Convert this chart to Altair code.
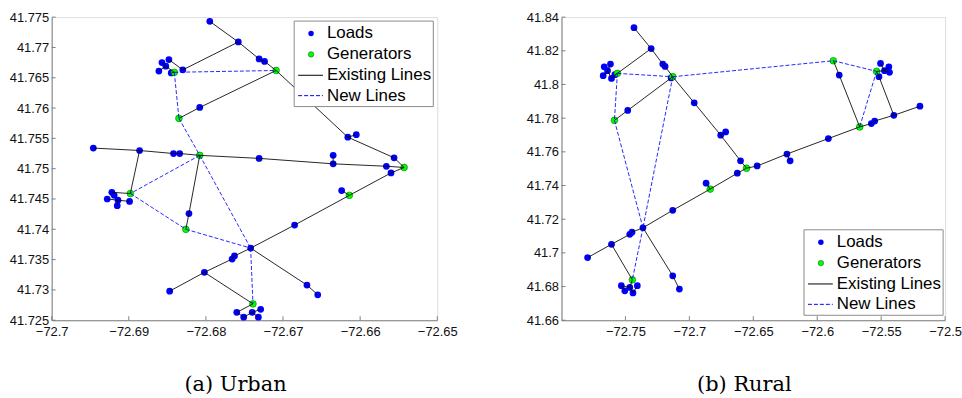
import altair as alt
import pandas as pd

# ---------------- Urban network (a) ----------------
urban_load_ids = ["u01","u02","u03","u04","u05","u06","u07","u08","u09","u10","u11","u12","u13","u14","u15","u16",
                  "u17","u18","u19","u20","u21","u22","u23","u24","u25","u26","u27","u28","u29","u30","u31","u32",
                  "u33","u34","u35","u36","u37","u38","u39","u40","u41","u42","u43","u44"]
urban_load_lon = [-72.6795,-72.6758,-72.6731,-72.6724,-72.6616,-72.6605,-72.6556,-72.6560,-72.6566,-72.6635,-72.6635,
                  -72.6731,-72.6834,-72.6842,-72.6886,-72.6946,-72.6922,-72.6928,-72.6915,-72.6899,-72.6914,-72.6919,
                  -72.6822,-72.6742,-72.6763,-72.6766,-72.6685,-72.6624,-72.6802,-72.6847,-72.6669,-72.6655,-72.6760,
                  -72.6751,-72.6740,-72.6729,-72.6732,-72.6857,-72.6848,-72.6861,-72.6852,-72.6845,-72.6830,-72.6808]
urban_load_lat = [41.7743,41.7709,41.7681,41.7677,41.7552,41.7556,41.7518,41.7493,41.7504,41.7522,41.7508,
                  41.7517,41.7525,41.7525,41.7530,41.7534,41.7461,41.7450,41.7439,41.7446,41.7448,41.7456,
                  41.7426,41.7369,41.7356,41.7351,41.7407,41.7464,41.7329,41.7298,41.7308,41.7292,41.7263,
                  41.7255,41.7263,41.7268,41.7255,41.7675,41.7680,41.7661,41.7669,41.7658,41.7663,41.7601]
urban_gen_ids = ["g1","g2","g3","g4","g5","g6","g7","g8","g9"]
urban_gen_lon = [-72.6709,-72.6543,-72.6808,-72.6898,-72.6826,-72.6614,-72.6739,-72.6841,-72.6835]
urban_gen_lat = [41.7662,41.7502,41.7522,41.7459,41.7400,41.7456,41.7277,41.7659,41.7583]
urban_existing = [("u01","u02"),("u02","u03"),("u03","u04"),("u04","g1"),("g1","u05"),("u05","u06"),("u05","u07"),
                  ("u07","g2"),("u43","u02"),("u39","u43"),("u38","u41"),("u41","u40"),("u41","g8"),("u42","g8"),
                  ("g9","u44"),("u44","g1"),("u16","u15"),("u15","u14"),("u14","u13"),("u13","g3"),("g3","u12"),
                  ("u12","u11"),("u11","u09"),("u09","g2"),("u10","u11"),("u15","g4"),("u17","g4"),("u18","u20"),
                  ("u21","u19"),("g3","u23"),("u23","g5"),("g2","u08"),("u08","g6"),("g6","u28"),("g6","u27"),
                  ("u27","u24"),("u24","u25"),("u25","u26"),("u26","u29"),("u29","u30"),("u29","g7"),("u24","u31"),
                  ("u31","u32"),("g7","u33"),("u33","u34"),("u34","u35"),("u35","u36"),("u35","u37")]
urban_new = [("g8","g1"),("g8","g9"),("g9","g3"),("g3","g4"),("g4","g5"),("g5","u24"),("g3","u24"),("u24","g7")]
urban_x_ticks = [-72.7, -72.69, -72.68, -72.67, -72.66, -72.65]
urban_y_ticks = [41.725, 41.73, 41.735, 41.74, 41.745, 41.75, 41.755, 41.76, 41.765, 41.77, 41.775]
urban_x_domain = [-72.7, -72.65]
urban_y_domain = [41.725, 41.775]

# ---------------- Rural network (b) ----------------
rural_load_ids = ["r%02d" % i for i in range(1, 46)]
rural_load_lon = [-72.7433,-72.7299,-72.7208,-72.7190,-72.7143,-72.6962,-72.6755,-72.6716,-72.6600,-72.6625,-72.6470,
                  -72.6237,-72.6212,-72.5913,-72.5577,-72.5551,-72.5401,-72.5197,-72.5828,-72.5505,-72.5440,-72.5435,
                  -72.5517,-72.5474,-72.7666,-72.7617,-72.7640,-72.7674,-72.7609,-72.7583,-72.7482,-72.7796,-72.7609,
                  -72.7466,-72.7449,-72.7363,-72.7130,-72.6869,-72.7130,-72.7078,-72.7532,-72.7505,-72.7441,-72.7407,
                  -72.7466]
rural_load_lat = [41.8337,41.8213,41.8121,41.8107,41.8039,41.7891,41.7699,41.7718,41.7547,41.7473,41.7516,
                  41.7587,41.7547,41.7679,41.7768,41.7783,41.7817,41.7871,41.8056,41.8125,41.8105,41.8072,
                  41.8046,41.8082,41.8105,41.8121,41.8082,41.8052,41.8036,41.8058,41.7846,41.6972,41.7051,
                  41.7110,41.7123,41.7149,41.7253,41.7414,41.6864,41.6785,41.6805,41.6775,41.6762,41.6805,
                  41.6795]
rural_gen_ids = ["h1","h2","h3","h4","h5","h6","h7","h8","h9"]
rural_gen_lon = [-72.7130,-72.6553,-72.5668,-72.5874,-72.5536,-72.7563,-72.7586,-72.6837,-72.7446]
rural_gen_lat = [41.8046,41.7503,41.7748,41.8141,41.8078,41.8066,41.7787,41.7379,41.6840]
rural_existing = [("r01","r02"),("r02","r03"),("r03","r04"),("r04","h1"),("h1","r06"),("r06","r07"),("r07","r09"),
                  ("r07","r08"),("r09","h2"),("h6","r02"),("h7","r31"),("r31","h1"),("r26","r27"),("r27","r28"),
                  ("r27","r29"),("r29","h6"),("r30","h6"),("r32","r33"),("r33","r34"),("r34","r35"),("r35","r36"),
                  ("r36","r37"),("r37","h8"),("r38","h8"),("h8","r10"),("r10","h2"),("h2","r11"),("r11","r12"),
                  ("r12","r13"),("r12","r14"),("r14","h3"),("h3","r15"),("r15","r16"),("r16","r17"),("r17","r18"),
                  ("r33","h9"),("h9","r45"),("r45","r41"),("r41","r42"),("r45","r43"),("r43","r44"),("r36","r39"),
                  ("r39","r40"),("h4","r19"),("r19","h3"),("h5","r23"),("r23","r17"),("r20","r24"),("r24","r21"),
                  ("r24","r22"),("h5","r24")]
rural_new = [("h6","h1"),("h6","h7"),("h7","r36"),("h1","r36"),("r36","h9"),("h1","h4"),("h4","h5"),("h5","h3")]
rural_x_ticks = [-72.75, -72.7, -72.65, -72.6, -72.55, -72.5]
rural_y_ticks = [41.66, 41.68, 41.7, 41.72, 41.74, 41.76, 41.78, 41.8, 41.82, 41.84]
rural_x_domain = [-72.8, -72.5]
rural_y_domain = [41.66, 41.84]

legend_labels = ["Loads", "Generators", "Existing Lines", "New Lines"]
captions = ["(a) Urban", "(b) Rural"]

SANS = "Liberation Sans"
AXIS_GRAY = "#7f7f7f"


def panel(load_ids, load_lon, load_lat, gen_ids, gen_lon, gen_lat, existing, new,
          xdom, ydom, xticks, yticks, w, h, legend_top, caption):
    pos = {}
    for i, n in enumerate(load_ids):
        pos[n] = (load_lon[i], load_lat[i])
    for i, n in enumerate(gen_ids):
        pos[n] = (gen_lon[i], gen_lat[i])
    loads = pd.DataFrame({"x": load_lon, "y": load_lat})
    gens = pd.DataFrame({"x": gen_lon, "y": gen_lat})

    def edge_df(edges):
        return pd.DataFrame({
            "x": [pos[a][0] for a, b in edges], "y": [pos[a][1] for a, b in edges],
            "x2": [pos[b][0] for a, b in edges], "y2": [pos[b][1] for a, b in edges]})

    xs = alt.Scale(domain=xdom, nice=False, zero=False)
    ys = alt.Scale(domain=ydom, nice=False, zero=False)
    xaxis = alt.Axis(values=xticks, format=".6~g", title=None, grid=False, ticks=False,
                     domainColor=AXIS_GRAY, labelFont=SANS, labelFontSize=13, labelColor="#111",
                     labelPadding=5, labelFlush=False, labelOverlap=False)
    yaxis = alt.Axis(values=yticks, format=".6~g", title=None, grid=False, ticks=False,
                     domainColor=AXIS_GRAY, labelFont=SANS, labelFontSize=13, labelColor="#111",
                     labelPadding=3, labelFlush=False, labelOverlap=False)
    X = alt.X("x:Q", scale=xs, axis=xaxis)
    Y = alt.Y("y:Q", scale=ys, axis=yaxis)

    pts_load = alt.Chart(loads).mark_circle(size=46, color="#0000ff", opacity=1).encode(x=X, y=Y)
    pts_gen = alt.Chart(gens).mark_point(size=46, filled=True, fill="#00ff00", stroke="#0a6e0a",
                                         strokeWidth=0.6, opacity=1).encode(x=X, y=Y)
    ex = alt.Chart(edge_df(existing)).mark_rule(color="#000000", strokeWidth=1, opacity=0.85).encode(
        x=X, y=Y, x2="x2:Q", y2="y2:Q")
    nw = alt.Chart(edge_df(new)).mark_rule(color="#0000ff", strokeWidth=1, strokeDash=[4, 2], opacity=0.85).encode(
        x=X, y=Y, x2="x2:Q", y2="y2:Q")

    xt = alt.Chart(pd.DataFrame({"x": xticks})).mark_rule(color=AXIS_GRAY, strokeWidth=1).encode(
        x=X, y=alt.value(h), y2=alt.value(h - 4))
    yt = alt.Chart(pd.DataFrame({"y": yticks})).mark_rule(color=AXIS_GRAY, strokeWidth=1).encode(
        y=Y, x=alt.value(0), x2=alt.value(4))

    one = pd.DataFrame({"k": [0]})
    T = legend_top
    lx0, lx1 = 244, 384
    rows = [T + 12.5, T + 33.5, T + 54.5, T + 75]
    box = alt.Chart(one).mark_rect(fill="white", stroke="#8a8a8a", strokeWidth=1).encode(
        x=alt.value(lx0), x2=alt.value(lx1), y=alt.value(T), y2=alt.value(T + 86))
    lg_load = alt.Chart(one).mark_circle(size=30, color="#0000ff", opacity=1).encode(
        x=alt.value(261), y=alt.value(rows[0]))
    lg_gen = alt.Chart(one).mark_point(size=30, filled=True, fill="#00ff00", stroke="#0a6e0a",
                                       strokeWidth=0.6, opacity=1).encode(x=alt.value(261), y=alt.value(rows[1]))
    lg_ex = alt.Chart(one).mark_rule(color="#000000", strokeWidth=1).encode(
        x=alt.value(248), x2=alt.value(273), y=alt.value(rows[2]))
    lg_nw = alt.Chart(one).mark_rule(color="#0000ff", strokeWidth=1, strokeDash=[4, 2]).encode(
        x=alt.value(248), x2=alt.value(273), y=alt.value(rows[3]))
    texts = [alt.Chart(one).mark_text(align="left", baseline="middle", font=SANS, fontSize=17,
                                      color="#000").encode(x=alt.value(277), y=alt.value(rows[i]),
                                                           text=alt.value(legend_labels[i]))
             for i in range(4)]

    return alt.layer(pts_load, pts_gen, ex, nw, xt, yt, box, lg_load, lg_gen, lg_ex, lg_nw, *texts).properties(
        width=w, height=h,
        title=alt.TitleParams(caption, orient="bottom", anchor="middle", font="DejaVu Serif", fontSize=21,
                              fontWeight="normal", color="#000", offset=36, dx=-9))


left = panel(urban_load_ids, urban_load_lon, urban_load_lat, urban_gen_ids, urban_gen_lon, urban_gen_lat,
             urban_existing, urban_new, urban_x_domain, urban_y_domain, urban_x_ticks, urban_y_ticks,
             388, 305, 4, captions[0])
right = panel(rural_load_ids, rural_load_lon, rural_load_lat, rural_gen_ids, rural_gen_lon, rural_gen_lat,
              rural_existing, rural_new, rural_x_domain, rural_y_domain, rural_x_ticks, rural_y_ticks,
              386, 305, 214, captions[1])

chart = alt.hconcat(left, right, spacing=67).properties(
    padding={"left": 8, "top": 9, "right": 0, "bottom": 0}
).configure_view(stroke=None).configure(background="white")

chart.save("out.html", embed_options={"renderer": "svg", "actions": False})
